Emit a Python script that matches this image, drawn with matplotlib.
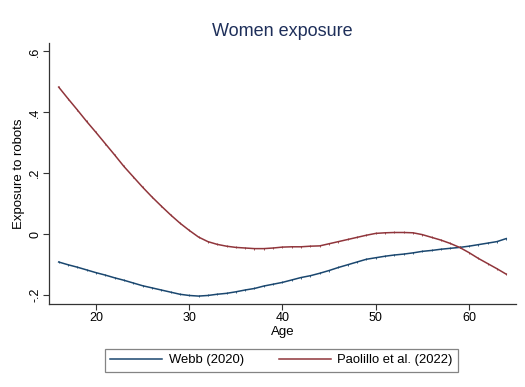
import matplotlib.pyplot as plt
import numpy as np

plt.rcParams['font.family'] = ['Liberation Sans', 'DejaVu Sans']

age = list(range(16, 65))

webb = [-0.092, -0.101, -0.109, -0.118, -0.127, -0.135, -0.144, -0.152, -0.161, -0.170,
        -0.177, -0.184, -0.191, -0.198, -0.202, -0.204, -0.202, -0.198, -0.195, -0.190,
        -0.184, -0.179, -0.171, -0.165, -0.159, -0.151, -0.143, -0.137, -0.129, -0.120,
        -0.110, -0.101, -0.092, -0.083, -0.078, -0.073, -0.069, -0.066, -0.062, -0.057,
        -0.054, -0.050, -0.047, -0.044, -0.040, -0.035, -0.030, -0.025, -0.015]

paolillo = [0.483, 0.445, 0.408, 0.370, 0.334, 0.297, 0.260, 0.222, 0.188, 0.154,
            0.122, 0.092, 0.063, 0.036, 0.012, -0.010, -0.025, -0.034, -0.040, -0.044,
            -0.046, -0.048, -0.048, -0.046, -0.043, -0.042, -0.042, -0.040, -0.039, -0.032,
            -0.025, -0.018, -0.011, -0.004, 0.002, 0.004, 0.005, 0.005, 0.004, -0.002,
            -0.011, -0.020, -0.031, -0.044, -0.061, -0.080, -0.097, -0.114, -0.132]

yticks = [-0.2, 0, 0.2, 0.4, 0.6]
yticklabels = ['-.2', '0', '.2', '.4', '.6']
xticks = [20, 30, 40, 50, 60]

blue = '#1a476f'
red = '#90353b'

fig = plt.figure(figsize=(5.25, 3.87), dpi=100)
ax = fig.add_axes([0.094, 0.2145, 0.888, 0.6745])

ax.plot(age, webb, color=blue, lw=1.1, marker='|', ms=1.8, mew=0.6, label='Webb (2020)')
ax.plot(age, paolillo, color=red, lw=1.1, marker='|', ms=1.8, mew=0.6, label='Paolillo et al. (2022)')

ax.set_xlim(15, 65)
ax.set_ylim(-0.23, 0.628)
ax.set_xticks(xticks)
ax.set_yticks(yticks)
ax.set_yticklabels(yticklabels, rotation=90, va='center')
ax.tick_params(labelsize=9, length=4, width=0.8, color='#333333')
ax.tick_params(axis='x', pad=1.5)
ax.tick_params(axis='y', pad=2)
ax.spines['top'].set_visible(False)
ax.spines['right'].set_visible(False)
for s in ['left', 'bottom']:
    ax.spines[s].set_linewidth(0.9)
    ax.spines[s].set_color('#333333')

ax.set_xlabel('Age', fontsize=9.5, labelpad=1.5)
ax.set_ylabel('Exposure to robots', fontsize=9.5, labelpad=3)
fig.text(0.537, 0.918, 'Women exposure', ha='center', va='center', fontsize=13, color='#1e2f5a')

leg = fig.legend(loc='center', bbox_to_anchor=(0.2, 0.038, 0.6724, 0.062), mode='expand',
                 borderaxespad=0, ncol=2, fontsize=9.4, frameon=True, fancybox=False,
                 edgecolor='#666666', handlelength=4, handletextpad=0.5,
                 columnspacing=2.2, borderpad=0.4)
for h in leg.legend_handles:
    h.set_marker('')
leg.get_frame().set_linewidth(0.9)

fig.savefig('out.png', dpi=100)
